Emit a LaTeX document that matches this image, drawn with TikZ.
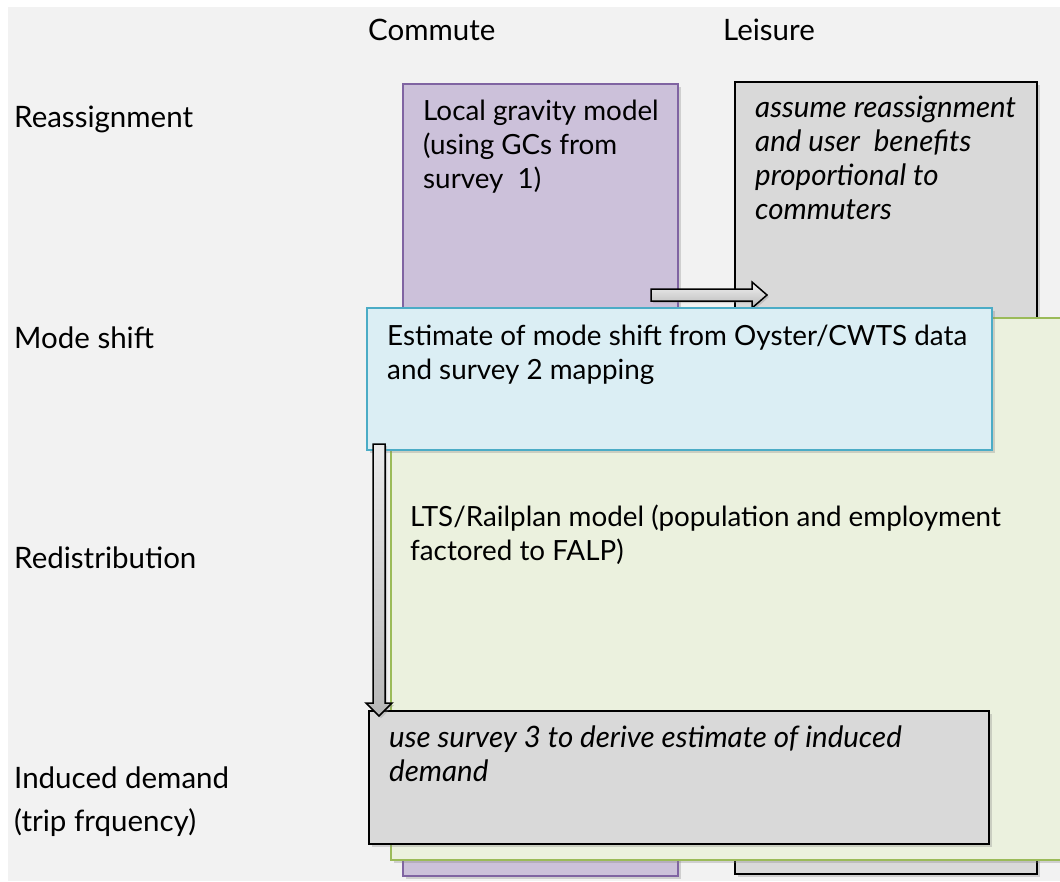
\documentclass[tikz,border=0pt]{standalone}
\usepackage{fontspec}
\setmainfont{Lato}
\usetikzlibrary{calc}
\usetikzlibrary{shadows}

\definecolor{bgGray}{HTML}{F2F2F2}
\definecolor{boxPurple}{HTML}{CCC1DA}
\definecolor{edgePurple}{HTML}{8064A2}
\definecolor{boxGray}{HTML}{D9D9D9}
\definecolor{boxGreen}{HTML}{EBF1DE}
\definecolor{edgeGreen}{HTML}{9BBB59}
\definecolor{boxBlue}{HTML}{DBEEF4}
\definecolor{edgeBlue}{HTML}{4BACC6}

\tikzset{
  txt/.style={inner sep=0pt, anchor=base west, align=left,
    font=\fontsize{29.5}{34}\selectfont},
  boxtxt/.style={txt, font=\fontsize{27.8}{34}\selectfont},
  panel/.style={rectangle, inner sep=0pt, outer sep=0pt, anchor=north west,
    line width=1.8pt,
    drop shadow={shadow xshift=3pt, shadow yshift=-3pt, opacity=0.3}},
  hblock/.style={draw=black, line width=1.5pt, top color=bgGray, bottom color=black!28,
    drop shadow={shadow xshift=2pt, shadow yshift=-2pt, opacity=0.3},
    to path={($(\tikztostart)+(0,-6)$) -- ($(\tikztotarget)+(-15,-6)$)
      -- ($(\tikztotarget)+(-15,-13)$) -- (\tikztotarget)
      -- ($(\tikztotarget)+(-15,13)$) -- ($(\tikztotarget)+(-15,6)$)
      -- ($(\tikztostart)+(0,6)$) -- cycle}},
  vblock/.style={draw=black, line width=1.5pt, top color=black!8, bottom color=black!28,
    drop shadow={shadow xshift=2pt, shadow yshift=-2pt, opacity=0.3},
    to path={($(\tikztostart)+(-6,0)$) -- ($(\tikztotarget)+(-6,-13)$)
      -- ($(\tikztotarget)+(-13,-13)$) -- (\tikztotarget)
      -- ($(\tikztotarget)+(13,-13)$) -- ($(\tikztotarget)+(6,-13)$)
      -- ($(\tikztostart)+(6,0)$) -- cycle}},
}

\begin{document}
\begin{tikzpicture}[x=1pt, y=-1pt]
    \clip (0,0) rectangle (1060,881);
    \fill[bgGray] (8,7) rectangle (1060,881);

    % column heads
    \node[txt] (commute) at (368,40) {Commute};
    \node[txt] (leisure) at (723,40) {Leisure};

    % row heads (base = last line)
    \node[txt] (reassign) at (14,127) {Reassignment};
    \node[txt] (modeshift) at (14,348) {Mode shift};
    \node[txt] (redist) at (14,568) {Redistribution};
    \node[txt] (induced) at (14,831) {Induced demand\\[9pt](trip frquency)};

    % panels, back to front
    \node[panel, fill=boxPurple, draw=edgePurple, line width=1.3pt,
          minimum width=275, minimum height=792] (gravitybox) at (403,84) {};
    \node[panel, fill=boxGray, draw=black,
          minimum width=302, minimum height=792] (leisurebox) at (735,82) {};
    \node[boxtxt] (gravitytxt) at (423,188) {Local gravity model\\(using GCs from\\survey\ \ 1)};
    \node[txt, font=\fontsize{29.5}{34}\selectfont\itshape] (leisuretxt) at (755,219)
          {assume reassignment\\and user\ \ benefits\\proportional to\\commuters};

    \coordinate (hs) at (651,295);
    \coordinate (he) at (767,295);
    \draw[hblock] (hs) to (he);

    \node[panel, fill=boxGreen, draw=edgeGreen,
          minimum width=800, minimum height=542] (redistbox) at (391,318) {};
    \node[panel, fill=boxBlue, draw=edgeBlue,
          minimum width=625, minimum height=142] (modebox) at (367,308) {};
    \node[boxtxt] (modetxt) at (387,379) {Estimate of mode shift from Oyster/CWTS data\\and survey 2 mapping};
    \node[boxtxt] (redisttxt) at (410,560) {LTS/Railplan model (population and employment\\factored to FALP)};

    \node[panel, fill=boxGray, draw=black,
          minimum width=620, minimum height=133] (inducedbox) at (369,711) {};
    \node[txt, font=\fontsize{29.5}{34}\selectfont\itshape] (inducedtxt) at (389,781)
          {use survey 3 to derive estimate of induced\\demand};

    \coordinate (vs) at (379,444);
    \coordinate (ve) at (379,716);
    \draw[vblock] (vs) to (ve);
\end{tikzpicture}
\end{document}
